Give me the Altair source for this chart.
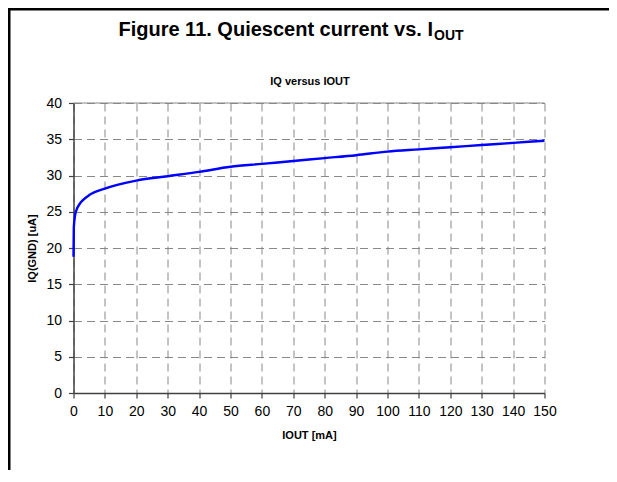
import altair as alt
import pandas as pd

# Data
iout = [0, 0.1, 0.5, 1, 2, 3, 5, 10, 20, 30, 40, 50, 60, 70, 80, 90, 100, 110, 120, 130, 140, 150]
iq = [18.8, 22.8, 24.5, 25.3, 26.1, 26.6, 27.3, 28.2, 29.3, 29.9, 30.5, 31.2, 31.6, 32.0, 32.4, 32.8, 33.3, 33.6, 33.9, 34.2, 34.5, 34.8]

x_ticks = list(range(0, 151, 10))
y_ticks = list(range(0, 41, 5))

main_title = "Figure 11. Quiescent current vs. I"
main_sub = "OUT"
chart_title = "IQ versus IOUT"
x_title = "IOUT [mA]"
y_title = "IQ(GND) [uA]"

FONT = "Liberation Sans"
W, H = 471, 290
PADL, PADT = 65.5, 95
SVG_W, SVG_H = 601, 462

df = pd.DataFrame({"iout": iout, "iq": iq})

x_enc = alt.X("iout:Q", scale=alt.Scale(domain=[0, 150], nice=False),
              axis=alt.Axis(values=x_ticks, title=x_title, titlePadding=11,
                            labelPadding=6, labelOverlap=False, labelFlush=False))
y_enc = alt.Y("iq:Q", scale=alt.Scale(domain=[0, 40], nice=False),
              axis=alt.Axis(values=y_ticks, title=y_title, titlePadding=8,
                            labelPadding=7, labelOverlap=False, labelFlush=False))

line = alt.Chart(df).mark_line(color="#0000FF", strokeWidth=2.4, interpolate="monotone").encode(
    x=x_enc, y=y_enc)

# solid top border of the plot area
top_border = alt.Chart(pd.DataFrame({"k": [0]})).mark_rule(color="#888888", strokeWidth=1.2).encode(
    x=alt.value(0), x2=alt.value(W), y=alt.value(0), y2=alt.value(0))

# frame lines of the figure box (thin filled rectangles)
frame_top = alt.Chart(pd.DataFrame({"k": [0]})).mark_rect(color="black").encode(
    x=alt.value(-PADL), x2=alt.value(SVG_W - PADL), y=alt.value(-PADT), y2=alt.value(-PADT + 2.5))
frame_left = alt.Chart(pd.DataFrame({"k": [0]})).mark_rect(color="black").encode(
    x=alt.value(-PADL), x2=alt.value(-PADL + 2.5), y=alt.value(-PADT), y2=alt.value(SVG_H - PADT))

t_main = alt.Chart(pd.DataFrame({"t": [main_title]})).mark_text(
    font=FONT, fontSize=20, fontWeight="bold", align="right", baseline="alphabetic", color="black"
).encode(text="t:N", x=alt.value(433 - 73.5), y=alt.value(36 - 103))
t_sub = alt.Chart(pd.DataFrame({"t": [main_sub]})).mark_text(
    font=FONT, fontSize=14, fontWeight="bold", align="left", baseline="alphabetic", color="black"
).encode(text="t:N", x=alt.value(434 - 73.5), y=alt.value(40 - 103))
t_chart = alt.Chart(pd.DataFrame({"t": [chart_title]})).mark_text(
    font=FONT, fontSize=11, fontWeight="bold", align="center", baseline="alphabetic", color="black"
).encode(text="t:N", x=alt.value(310 - 73.5), y=alt.value(85 - 103))

chart = alt.layer(line, top_border, frame_top, frame_left, t_main, t_sub, t_chart).properties(
    width=W, height=H,
    autosize=alt.AutoSizeParams(type="none"),
    padding={"left": PADL, "top": PADT, "right": SVG_W - PADL - W, "bottom": SVG_H - PADT - H},
    background="white",
).configure_view(stroke=None).configure_axis(
    labelFont=FONT, labelFontSize=14, labelColor="black",
    titleFont=FONT, titleFontSize=11, titleFontWeight="bold", titleColor="black",
    domainColor="#404040", domainWidth=1.5, tickColor="#404040", tickSize=5, tickWidth=1.2,
    grid=True, gridColor="#888888", gridDash=[8, 5], gridWidth=1,
)

chart.save("out.html", embed_options={"renderer": "svg", "actions": False})
